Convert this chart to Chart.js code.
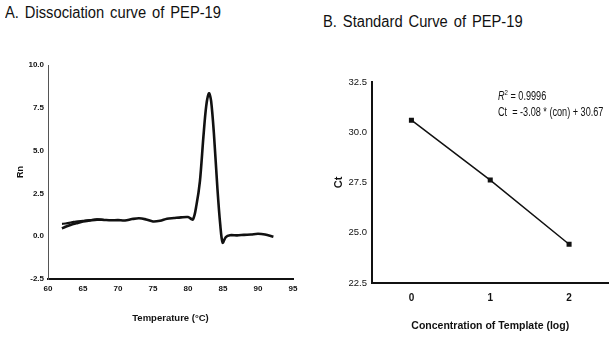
<!DOCTYPE html>
<html>
<head>
<meta charset="utf-8">
<script src="https://cdn.jsdelivr.net/npm/chart.js@4.4.0/dist/chart.umd.min.js"></script>
<style>
  html,body{margin:0;padding:0;background:#fff;}
  .wrap{position:relative;width:614px;height:338px;overflow:hidden;}
  canvas{position:absolute;top:0;}
  .ttl{position:absolute;font-family:"Liberation Sans",Arial,sans-serif;font-size:16px;color:#111;white-space:nowrap;word-spacing:2px;transform:scaleX(0.92);transform-origin:0 0;}
  .note{position:absolute;font-family:"Liberation Sans",Arial,sans-serif;font-size:12px;color:#111;white-space:nowrap;line-height:16px;transform:scaleX(0.76);transform-origin:0 0;}
  .note sup{font-size:8px;vertical-align:5px;line-height:0;}
</style>
</head>
<body>
<div class="wrap">
  <div class="ttl" style="left:5px;top:4px;">A. Dissociation curve of PEP-19</div>
  <div class="ttl" style="left:323px;top:13px;">B. Standard Curve of PEP-19</div>
  <canvas id="chartA" width="307" height="338" style="left:0;width:307px;height:338px;"></canvas>
  <canvas id="chartB" width="284" height="338" style="left:330px;width:284px;height:338px;"></canvas>
  <div class="note" style="left:498px;top:88px;"><i>R</i><sup>2</sup> = 0.9996<br>Ct&nbsp; = -3.08 * (con) + 30.67</div>
</div>
<script>
// --- A. dissociation curve (temperature vs Rn) ---
const meltTemps = [62, 62.5, 63, 63.5, 64, 65, 66, 67, 68, 69, 70, 71, 72, 73, 74, 75, 76, 77, 78, 79, 80, 80.7, 81.2, 81.7, 82.2, 82.6, 83.0, 83.3, 83.7, 84.2, 84.6, 84.95, 85.4, 86, 87, 88, 89, 90, 91, 92.2];
const meltRn    = [0.45, 0.55, 0.62, 0.7, 0.75, 0.86, 0.92, 0.97, 0.95, 0.93, 0.94, 0.92, 1.0, 1.05, 0.98, 0.86, 0.9, 1.02, 1.06, 1.1, 1.12, 0.98, 1.8, 3.2, 5.8, 7.6, 8.35, 7.9, 6.0, 2.8, 0.7, -0.38, -0.05, 0.06, 0.05, 0.08, 0.1, 0.14, 0.1, -0.03];
// second trace seen at the low-temperature end (slightly higher start)
const meltTemps2 = [62, 62.5, 63, 63.5, 64, 65, 66, 67, 68];
const meltRn2    = [0.72, 0.74, 0.78, 0.82, 0.86, 0.9, 0.94, 0.99, 0.96];
const ticksA_x = [60, 65, 70, 75, 80, 85, 90, 95];
const ticksA_y = [-2.5, 0.0, 2.5, 5.0, 7.5, 10.0];

// --- B. standard curve (log concentration vs Ct) ---
const concLog = [0, 1, 2];
const ctValues = [30.6, 27.62, 24.43];
const ticksB_x = [0, 1, 2];
const ticksB_y = [22.5, 25.0, 27.5, 30.0, 32.5];

const sans = '"Liberation Sans", Arial, sans-serif';

function pairs(xs, ys){ return xs.map((x,i)=>({x:x, y:ys[i]})); }
function fixedTicks(list){ return function(scale){ scale.ticks = list.map(v=>({value:v})); }; }

new Chart(document.getElementById('chartA'), {
  type: 'line',
  data: {
    datasets: [
      {data: pairs(meltTemps, meltRn), borderColor:'#111', borderWidth:2.6, pointRadius:0, tension:0.3, fill:false},
      {data: pairs(meltTemps2, meltRn2), borderColor:'#111', borderWidth:2.2, pointRadius:0, tension:0.3, fill:false}
    ]
  },
  options: {
    responsive:false, animation:false, events:[],
    layout:{padding:{top:65, right:14, left:11, bottom:0}},
    plugins:{legend:{display:false}, tooltip:{enabled:false}},
    scales:{
      x:{type:'linear', min:60, max:95,
        afterBuildTicks: fixedTicks(ticksA_x),
        afterFit: s=>{ s.height = 59; },
        grid:{display:false, drawTicks:true, tickLength:3, tickColor:'#222'},
        border:{display:true, color:'#111', width:2},
        ticks:{color:'#111', padding:2, font:{family:sans, size:8, weight:'bold'}, maxRotation:0},
        title:{display:true, text:'Temperature (°C)', color:'#111', padding:{top:4, bottom:14}, font:{family:sans, size:9.5, weight:'bold'}}
      },
      y:{type:'linear', min:-2.5, max:10,
        afterBuildTicks: fixedTicks(ticksA_y),
        afterFit: s=>{ s.width = 37; },
        grid:{display:false, drawTicks:true, tickLength:3, tickColor:'#333'},
        border:{display:true, color:'#555', width:1, dash:[3,9]},
        ticks:{color:'#111', padding:1, font:{family:sans, size:8, weight:'bold'}, callback:v=>v.toFixed(1)},
        title:{display:true, text:'Rn', color:'#111', padding:{bottom:0}, font:{family:sans, size:9, weight:'bold'}}
      }
    }
  }
});

new Chart(document.getElementById('chartB'), {
  type: 'line',
  data: {
    datasets: [
      {data: pairs(concLog, ctValues), borderColor:'#111', borderWidth:1.5, pointStyle:'rect', pointRadius:2.5,
       pointBackgroundColor:'#111', pointBorderColor:'#111', tension:0, fill:false}
    ]
  },
  options: {
    responsive:false, animation:false, events:[],
    layout:{padding:{top:82, right:0, left:0, bottom:0}},
    plugins:{legend:{display:false}, tooltip:{enabled:false}},
    scales:{
      x:{type:'linear', min:-0.5, max:2.5,
        afterBuildTicks: fixedTicks(ticksB_x),
        afterFit: s=>{ s.height = 55; },
        grid:{display:false, drawTicks:true, tickLength:4, tickColor:'#222'},
        border:{display:true, color:'#111', width:2},
        ticks:{color:'#111', padding:5, font:{family:sans, size:10, weight:'bold'}, maxRotation:0},
        title:{display:true, text:'Concentration of Template (log)', color:'#111', padding:{top:4, bottom:6}, font:{family:sans, size:10.5, weight:'bold'}}
      },
      y:{type:'linear', min:22.5, max:32.5,
        afterBuildTicks: fixedTicks(ticksB_y),
        afterFit: s=>{ s.width = 42; },
        grid:{display:false, drawTicks:true, tickLength:3, tickColor:'#222'},
        border:{display:true, color:'#111', width:2},
        ticks:{color:'#111', padding:2, font:{family:sans, size:9.5}, callback:v=>v.toFixed(1)},
        title:{display:true, text:'Ct', color:'#111', padding:{top:2, bottom:2}, font:{family:sans, size:11, weight:'bold'}}
      }
    }
  }
});
</script>
</body>
</html>
